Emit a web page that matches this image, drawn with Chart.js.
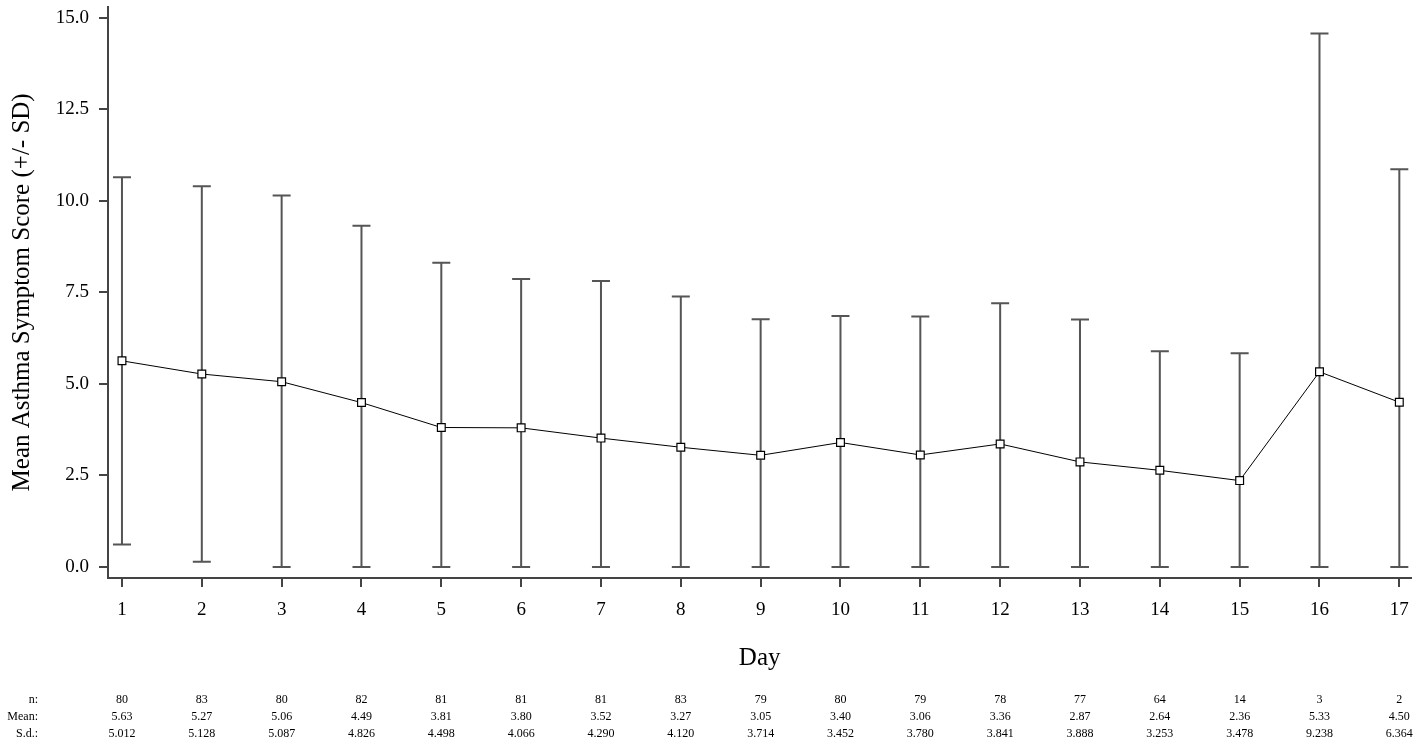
<!DOCTYPE html>
<html>
<head>
<meta charset="utf-8">
<title>Mean Asthma Symptom Score</title>
<script src="https://cdn.jsdelivr.net/npm/chart.js@4.4.1/dist/chart.umd.min.js"></script>
<style>
  html, body { margin: 0; padding: 0; background: #fff; }
  #wrap { width: 1418px; height: 741px; position: relative; }
</style>
</head>
<body>
<div id="wrap"><canvas id="chart"></canvas></div>
<script>
// values
const days = [1, 2, 3, 4, 5, 6, 7, 8, 9, 10, 11, 12, 13, 14, 15, 16, 17];
const nValues = [80, 83, 80, 82, 81, 81, 81, 83, 79, 80, 79, 78, 77, 64, 14, 3, 2];
const means = [5.63, 5.27, 5.06, 4.49, 3.81, 3.80, 3.52, 3.27, 3.05, 3.40, 3.06, 3.36, 2.87, 2.64, 2.36, 5.33, 4.50];
const sds = [5.012, 5.128, 5.087, 4.826, 4.498, 4.066, 4.290, 4.120, 3.714, 3.452, 3.780, 3.841, 3.888, 3.253, 3.478, 9.238, 6.364];
const yTickValues = [0, 2.5, 5, 7.5, 10, 12.5, 15];

const serif = '"Liberation Serif", "Times New Roman", serif';

// error bars: mean +/- SD, lower end cut at 0
const errorBars = {
    id: 'errorBars',
    beforeDatasetsDraw(chart) {
        const ctx = chart.ctx;
        const x = chart.scales.x;
        const y = chart.scales.y;
        ctx.save();
        ctx.strokeStyle = '#555';
        ctx.lineWidth = 2;
        days.forEach((d, i) => {
            const px = x.getPixelForValue(d);
            const top = y.getPixelForValue(means[i] + sds[i]);
            const bottom = y.getPixelForValue(Math.max(0, means[i] - sds[i]));
            ctx.beginPath();
            ctx.moveTo(px, top);
            ctx.lineTo(px, bottom);
            ctx.moveTo(px - 9, top);
            ctx.lineTo(px + 9, top);
            ctx.moveTo(px - 9, bottom);
            ctx.lineTo(px + 9, bottom);
            ctx.stroke();
        });
        ctx.restore();
    }
};

// n / Mean / S.d. table under the axis
const statsTable = {
    id: 'statsTable',
    afterDraw(chart) {
        const ctx = chart.ctx;
        const x = chart.scales.x;
        const rows = [
            { label: 'n:', y: 700, values: nValues.map(v => String(v)) },
            { label: 'Mean:', y: 717, values: means.map(v => v.toFixed(2)) },
            { label: 'S.d.:', y: 734, values: sds.map(v => v.toFixed(3)) }
        ];
        ctx.save();
        ctx.fillStyle = '#000';
        ctx.font = '12px ' + serif;
        ctx.textBaseline = 'middle';
        rows.forEach(row => {
            ctx.textAlign = 'right';
            ctx.fillText(row.label, 38, row.y);
            ctx.textAlign = 'center';
            row.values.forEach((v, i) => {
                ctx.fillText(v, x.getPixelForValue(days[i]), row.y);
            });
        });
        ctx.restore();
    }
};

new Chart(document.getElementById('chart'), {
    type: 'line',
    data: {
        datasets: [{
            data: days.map((d, i) => ({ x: d, y: means[i] })),
            borderColor: '#000',
            borderWidth: 1,
            pointStyle: 'rect',
            pointRadius: 5.5,
            pointBackgroundColor: '#fff',
            pointBorderColor: '#000',
            pointBorderWidth: 1.2,
            tension: 0
        }]
    },
    options: {
        responsive: true,
        maintainAspectRatio: false,
        animation: false,
        layout: { padding: { left: 0, top: 5, right: 6, bottom: 64 } },
        plugins: {
            legend: { display: false },
            tooltip: { enabled: false }
        },
        scales: {
            x: {
                type: 'linear',
                min: 0.825,
                max: 17.15,
                afterFit: scale => {
                    scale.height = 99;
                    scale.paddingLeft = 0;
                    scale.paddingRight = 0;
                },
                afterBuildTicks: scale => { scale.ticks = days.map(v => ({ value: v })); },
                grid: { drawOnChartArea: false, drawTicks: true, tickLength: 9, color: '#444', lineWidth: 2 },
                border: { display: true, color: '#444', width: 2 },
                ticks: {
                    color: '#000',
                    padding: 12,
                    maxRotation: 0,
                    autoSkip: false,
                    font: { family: serif, size: 19 },
                    callback: v => String(v)
                },
                title: {
                    display: true,
                    text: 'Day',
                    color: '#000',
                    font: { family: serif, size: 25 },
                    padding: { top: 0, bottom: 4 }
                }
            },
            y: {
                min: -0.3,
                max: 15.3,
                afterFit: scale => {
                    scale.width = 108;
                    scale.paddingTop = 0;
                    scale.paddingBottom = 0;
                },
                afterBuildTicks: scale => { scale.ticks = yTickValues.map(v => ({ value: v })); },
                grid: { drawOnChartArea: false, drawTicks: true, tickLength: 9, color: '#444', lineWidth: 2 },
                border: { display: true, color: '#444', width: 2 },
                ticks: {
                    color: '#000',
                    padding: 10,
                    font: { family: serif, size: 19 },
                    callback: v => v.toFixed(1)
                },
                title: {
                    display: true,
                    text: 'Mean Asthma Symptom Score (+/- SD)',
                    color: '#000',
                    font: { family: serif, size: 25 },
                    padding: { top: 7, bottom: 0 }
                }
            }
        }
    },
    plugins: [errorBars, statsTable]
});
</script>
</body>
</html>
